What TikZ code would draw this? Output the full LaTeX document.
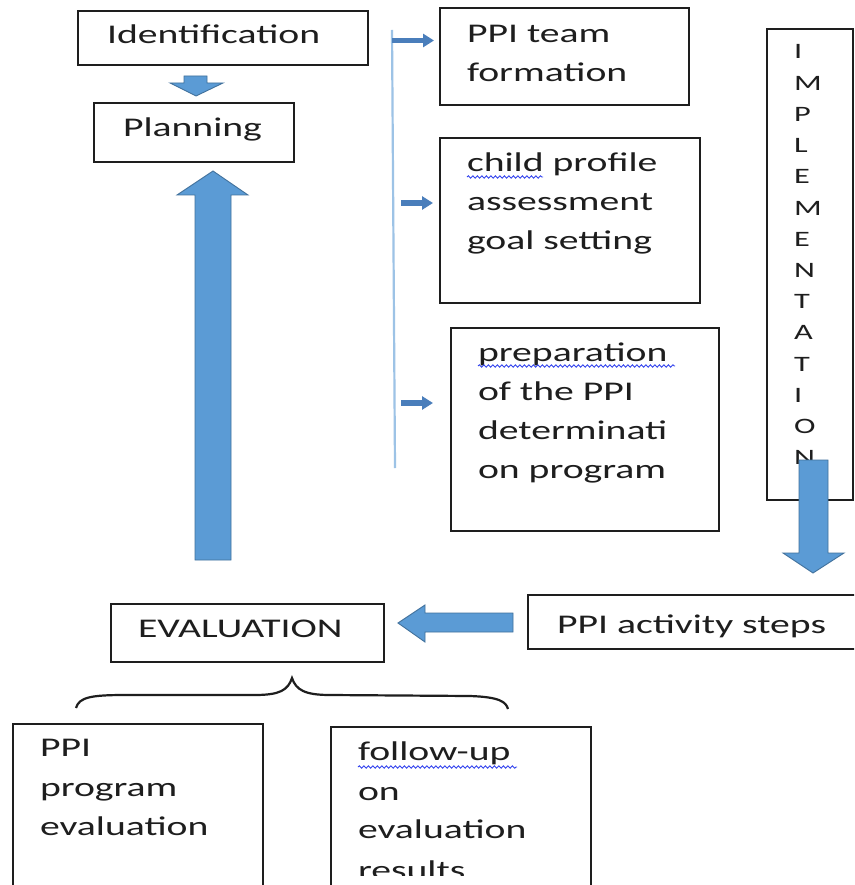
\documentclass[tikz,border=0pt]{standalone}
\usepackage{fontspec}
\setmainfont{Carlito}[FakeStretch=1.47]
\usetikzlibrary{calc,arrows.meta,decorations.pathmorphing}
\definecolor{arrowblue}{HTML}{5B9BD5}
\definecolor{arrowedge}{HTML}{41719C}
\definecolor{smallblue}{HTML}{4A7EBB}
\definecolor{busblue}{HTML}{9DC3E6}
\definecolor{squigblue}{HTML}{3344EE}
\definecolor{ink}{HTML}{1E1E1E}
\begin{document}
\begin{tikzpicture}[x=1pt,y=-1pt,
  framebox/.style={draw=ink, line width=1.6pt, rectangle, inner sep=0pt, anchor=north west},
  txt/.style={anchor=base west, inner sep=0pt, outer sep=0pt, text=ink, font=\fontsize{27}{32}\selectfont},
  impltxt/.style={anchor=base west, inner sep=0pt, text=ink, font=\fontsize{22}{26}\selectfont},
  blockarrow/.style={fill=arrowblue, draw=arrowedge, line width=0.9pt, line join=miter},
  smallarrow/.style={draw=smallblue, line width=5.5pt, -{Triangle[length=11pt,width=13pt]}},
  busline/.style={draw=busblue, line width=2.2pt},
  squig/.style={draw=squigblue, line width=0.9pt, decorate, decoration={snake, amplitude=1.2pt, segment length=4.5pt}},
  bracepath/.style={draw=ink, line width=2.2pt}]
\useasboundingbox (0,0) rectangle (854,885);
\fill[white] (0,0) rectangle (854,885);
\clip (0,0) rectangle (854,885);

% boxes
\node[framebox, minimum width=290pt, minimum height=54pt] (ident) at (77,10) {};
\node[framebox, minimum width=200pt, minimum height=59pt] (plan) at (93,102) {};
\node[framebox, minimum width=249pt, minimum height=97pt] (team) at (439,7) {};
\node[framebox, minimum width=260pt, minimum height=165pt] (child) at (439,137) {};
\node[framebox, minimum width=268pt, minimum height=203pt] (prep) at (450,327) {};
\node[framebox, minimum width=86pt, minimum height=471pt] (impl) at (766,28) {};
\node[framebox, minimum width=343pt, minimum height=54pt] (steps) at (527,594) {};
\node[framebox, minimum width=273pt, minimum height=58pt] (eval) at (110,603) {};
\node[framebox, minimum width=250pt, minimum height=180pt] (progeval) at (12,723) {};
\node[framebox, minimum width=260pt, minimum height=180pt] (follow) at (330,726) {};

% texts
\node[txt] (identT) at (107,44) {Identification};
\node[txt] (planT) at (123,137) {Planning};
\node[txt] (team1) at (467,43) {PPI team};
\node[txt] (team2) at (467,82) {formation};
\node[txt] (child1) at (467,172) {child profile};
\node[txt] (child2) at (467,211) {assessment};
\node[txt] (child3) at (467,249) {goal setting};
\node[txt] (prep1) at (478,361) {preparation};
\node[txt] (prep2) at (478,400) {of the PPI};
\node[txt] (prep3) at (478,439) {determinati};
\node[txt] (prep4) at (478,478) {on program};
\node[txt] (evalT) at (138,637) {EVALUATION};
\node[txt] (stepsT) at (557,633) {PPI activity steps};
\node[txt] (pe1) at (40,756) {PPI};
\node[txt] (pe2) at (40,796) {program};
\node[txt] (pe3) at (40,835) {evaluation};
\node[txt] (fu1) at (358,760) {follow-up};
\node[txt] (fu2) at (358,800) {on};
\node[txt] (fu3) at (358,838) {evaluation};
\begin{scope}
  \clip (340,850) rectangle (580,875);
  \node[txt] (fu4) at (358,879) {results};
\end{scope}
\foreach \l [count=\i from 0] in {I,M,P,L,E,M,E,N,T,A,T,I,O,N}
  \node[impltxt] (impl\i) at (794,{59+31.2*\i}) {\l};

% spell-check squiggles
\draw[squig] ($(child1.base west)+(0,5)$) -- ++(76,0);
\draw[squig] ($(prep1.base west)+(0,5)$) -- ++(197,0);
\draw[squig] ($(fu1.base west)+(0,7)$) -- ++(159,0);

% bus line and small arrows
\coordinate (busTop) at (392,30);
\coordinate (busBot) at (395,468);
\draw[busline] (busTop) -- (busBot);
\coordinate (a1s) at (392,40.5);
\coordinate (a2s) at (401,203);
\coordinate (a3s) at (401,403);
\draw[smallarrow] (a1s) -- ($(a1s -| team.west)+(-5,0)$);
\draw[smallarrow] (a2s) -- ($(a2s -| child.west)+(-6,0)$);
\draw[smallarrow] (a3s) -- ($(a3s -| prep.west)+(-17,0)$);

% block arrows
\draw[blockarrow] (184,76) -- (207,76) -- (207,83) -- (223,83) -- (196,96) -- (170,83) -- (184,83) -- cycle;
\draw[blockarrow] (195,560) -- (195,195) -- (177,195) -- (213,171) -- (248,195) -- (231,195) -- (231,560) -- cycle;
\draw[blockarrow] (799,460) -- (828,460) -- (828,553) -- (844,553) -- (813,573) -- (783,553) -- (799,553) -- cycle;
\draw[blockarrow] (513,613) -- (425,613) -- (425,605) -- (398,623) -- (425,642) -- (425,632) -- (513,632) -- cycle;

% brace
\coordinate (braceL) at (76,708);
\coordinate (braceTip) at (292,678);
\coordinate (braceR) at (508,709);
\draw[bracepath] (braceL) .. controls (79,697) and (92,695) .. (125,695)
  -- (255,695) .. controls (280,695) and (288,690) .. (braceTip)
  .. controls (296,690) and (305,695) .. (330,695)
  -- (470,696) .. controls (500,697) and (506,702) .. (braceR);
\end{tikzpicture}
\end{document}
